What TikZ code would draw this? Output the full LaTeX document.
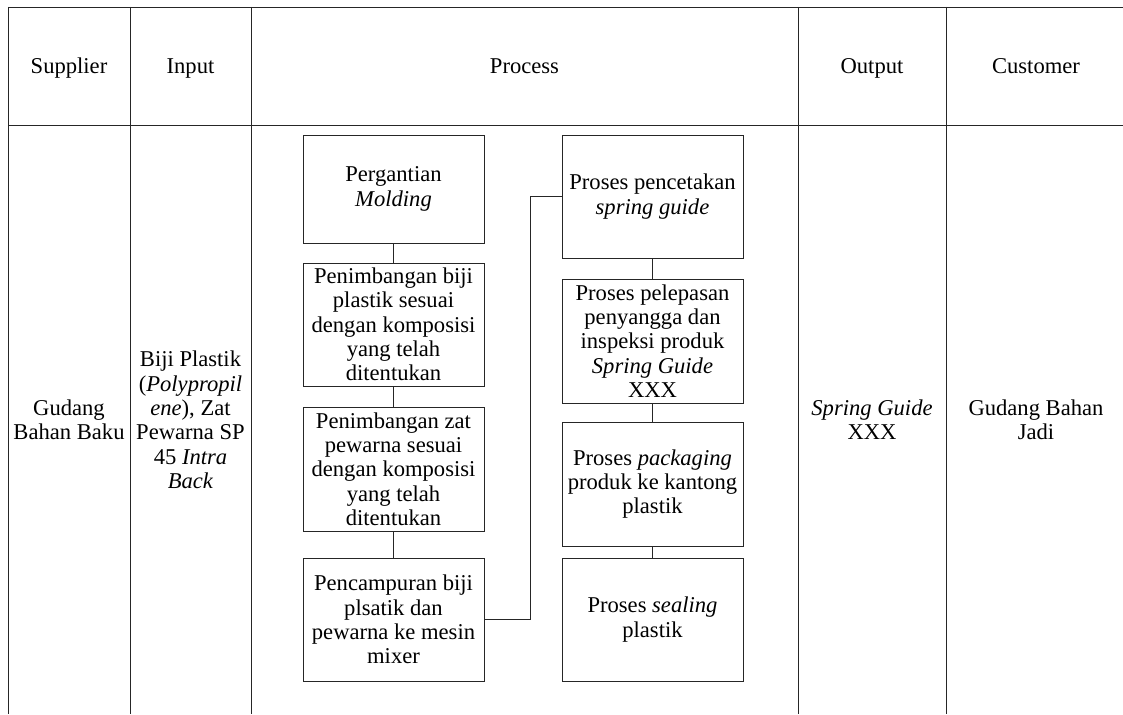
\documentclass[tikz,border=0pt]{standalone}
\usepackage{fontspec}
\setmainfont{Liberation Serif}
\begin{document}
\begin{tikzpicture}[x=1pt,y=-1pt,
  rule/.style={line width=0.9pt,draw=black!85},
  cell/.style={align=center,inner sep=0pt,font=\fontsize{22.6}{24.3}\selectfont},
  head/.style={cell,anchor=base},
  pbox/.style={draw=black!85,line width=0.9pt,minimum width=181pt,align=center,inner sep=0pt,font=\fontsize{22.6}{24.3}\selectfont},
  link/.style={line width=0.9pt,draw=black!85}]
\useasboundingbox (0,0) rectangle (1123,714);
\fill[white] (0,0) rectangle (1123,714);
% table rules
\draw[rule] (8,7) -- (1123,7);
\draw[rule] (8,125) -- (1123,125);
\foreach \x in {8,130,251,798,946} \draw[rule] (\x,7) -- (\x,714);
% header
\node[head] (hs) at (69,73.5) {Supplier};
\node[head] (hi) at (190.5,73.5) {Input};
\node[head] (hp) at (524.5,73.5) {Process};
\node[head] (ho) at (872,73.5) {Output};
\node[head] (hc) at (1036,73.5) {Customer};
% body texts
\node[cell] (sup) at (69,420) {Gudang\\Bahan Baku};
\node[cell] (inp) at (190.5,420) {Biji Plastik\\(\textit{Polypropil}\\\textit{ene}), Zat\\Pewarna SP\\45 \textit{Intra}\\\textit{Back}};
\node[cell] (out) at (872,420) {\textit{Spring Guide}\\XXX};
\node[cell] (cus) at (1036,420) {Gudang Bahan\\Jadi};
% process boxes
\node[pbox,minimum height=108pt] (b1) at (393.5,189) {Pergantian\\\textit{Molding}};
\node[pbox,minimum height=123pt] (b2) at (393.5,324.5) {Penimbangan biji\\plastik sesuai\\dengan komposisi\\yang telah\\ditentukan};
\node[pbox,minimum height=124pt] (b3) at (393.5,469) {Penimbangan zat\\pewarna sesuai\\dengan komposisi\\yang telah\\ditentukan};
\node[pbox,minimum height=123pt] (b4) at (393.5,619.5) {Pencampuran biji\\plsatik dan\\pewarna ke mesin\\mixer};
\node[pbox,minimum height=123pt] (b5) at (652.5,196.5) {Proses pencetakan\\\textit{spring guide}};
\node[pbox,minimum height=124pt] (b6) at (652.5,341) {Proses pelepasan\\penyangga dan\\inspeksi produk\\\textit{Spring Guide}\\XXX};
\node[pbox,minimum height=124pt] (b7) at (652.5,484) {Proses \textit{packaging}\\produk ke kantong\\plastik};
\node[pbox,minimum height=123pt] (b8) at (652.5,619.5) {Proses \textit{sealing}\\plastik};
% connectors
\draw[link] (b1) -- (b2);
\draw[link] (b2) -- (b3);
\draw[link] (b3) -- (b4);
\coordinate (turn) at (530,619.5);
\draw[link] (b4.east) -- (turn) |- (b5.west);
\draw[link] (b5) -- (b6);
\draw[link] (b6) -- (b7);
\draw[link] (b7) -- (b8);
\end{tikzpicture}
\end{document}
